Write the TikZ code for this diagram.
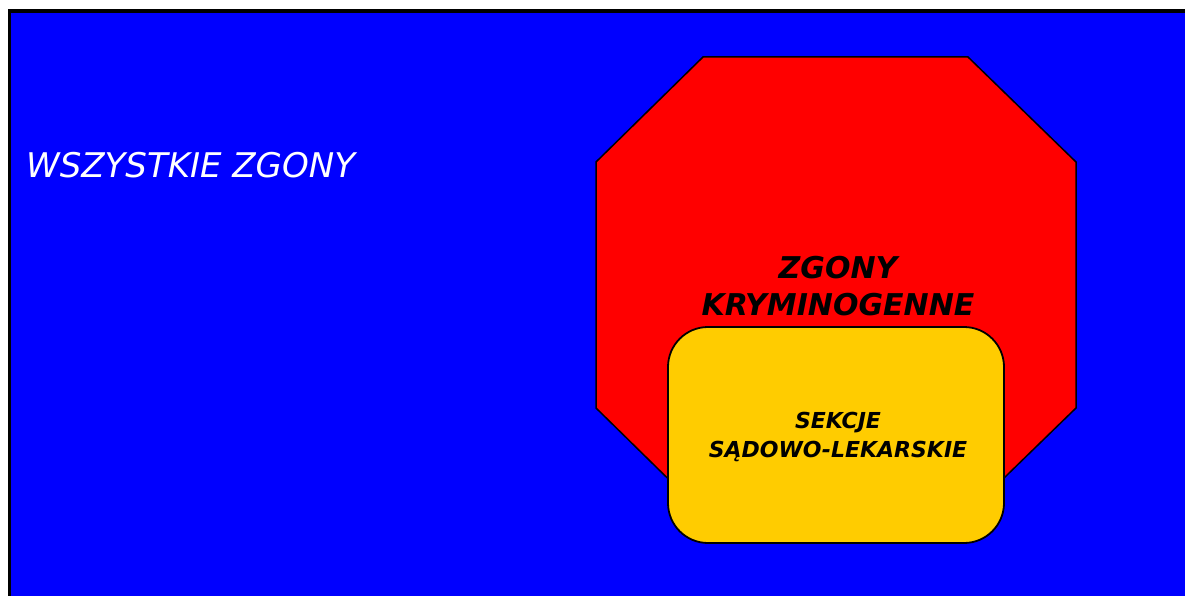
\documentclass[tikz,border=0pt]{standalone}
\usepackage{fontspec}
\setmainfont{DejaVu Sans}
\definecolor{tloniebieskie}{RGB}{0,0,255}
\definecolor{czerwony}{RGB}{255,0,0}
\definecolor{zolty}{RGB}{255,204,0}
\begin{document}
\begin{tikzpicture}[x=1pt, y=-1pt, line join=miter]
            \useasboundingbox (0,0) rectangle (1185,596);
            \clip (0,0) rectangle (1185,596);
            \draw[line width=3.5pt, fill=tloniebieskie] (9.7,11)--(1200,11)--(1200,620)--(9.7,620)--cycle;
            \draw[line width=1.5pt, fill=czerwony] 
            (703,57)--(968,57)--(1076,162)--(1076,408)--(968,513)--(703,513)--(596,408)--(596,162)--cycle;
            \draw[line width=1.8pt, fill=zolty, rounded corners=40pt] (668,327) rectangle (1004,543);
            \node[anchor=west, inner sep=0pt, text=white, font=\fontsize{34}{40}\selectfont\itshape] (wszystkie) at (26,165) {WSZYSTKIE ZGONY};
            \node[inner sep=0pt, align=center, font=\fontsize{30}{37}\selectfont\bfseries\itshape] (kryminogenne) at (838,286) {ZGONY\\KRYMINOGENNE};
            \node[inner sep=0pt, align=center, font=\fontsize{22}{29}\selectfont\bfseries\itshape] (sekcje) at (838,437) {SEKCJE\\SĄDOWO-LEKARSKIE};
        \end{tikzpicture}
\end{document}
